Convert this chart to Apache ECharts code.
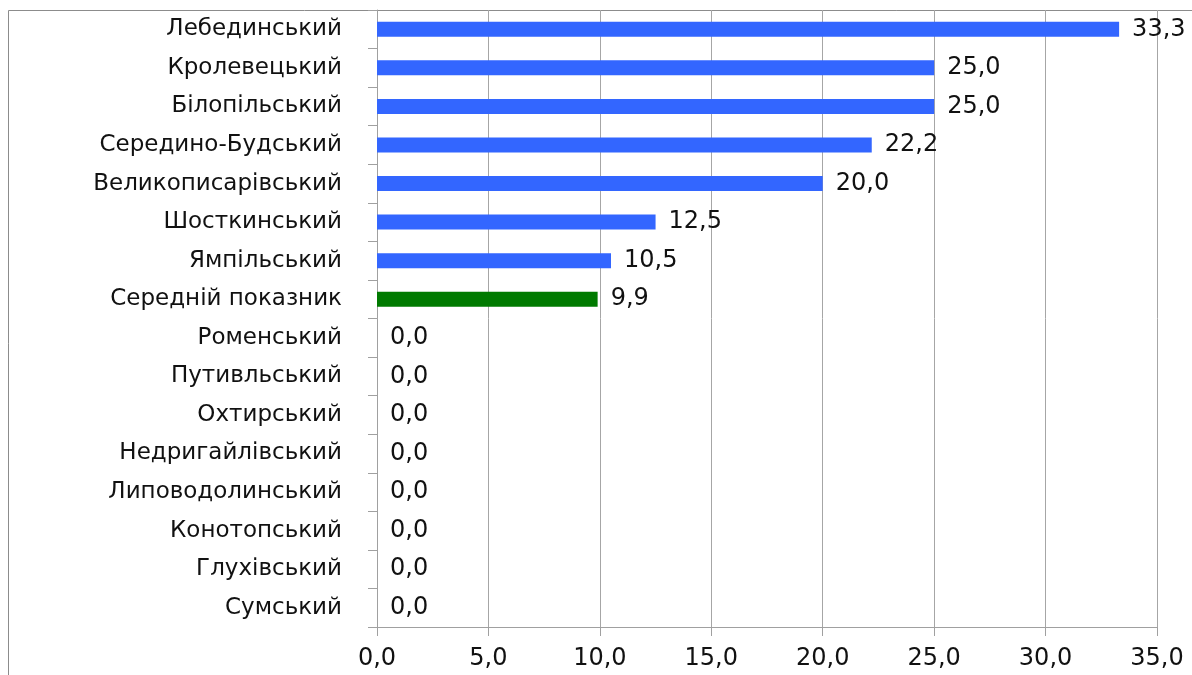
<!DOCTYPE html>
<html>
<head>
<meta charset="utf-8">
<script src="https://cdn.jsdelivr.net/npm/echarts@6/dist/echarts.min.js"></script>
<style>
html,body{margin:0;padding:0;background:#fff;}
#chart{width:1192px;height:675px;}
</style>
</head>
<body>
<div id="chart"></div>
<script>
const categories = ['Лебединський','Кролевецький','Білопільський','Середино-Будський','Великописарівський','Шосткинський','Ямпільський','Середній показник','Роменський','Путивльський','Охтирський','Недригайлівський','Липоводолинський','Конотопський','Глухівський','Сумський'];
const values = [33.3,25.0,25.0,22.2,20.0,12.5,10.5,9.9,0,0,0,0,0,0,0,0];
const averageLabel = 'Середній показник';
const xTicks = {min:0, max:35, interval:5};

const fmt = v => Number(v).toFixed(1).replace('.', ',');
const font = 'DejaVu Sans';

const chart = echarts.init(document.getElementById('chart'));
chart.setOption({
  animation:false,
  backgroundColor:'#fff',
  graphic:[{type:'rect', shape:{x:8.5,y:10.5,width:1300,height:800}, style:{fill:'none',stroke:'#8c8c8c',lineWidth:1}, silent:true, z:-10}],
  grid:{left:377,right:35,top:10,bottom:48,containLabel:false},
  xAxis:{type:'value',min:xTicks.min,max:xTicks.max,interval:xTicks.interval,
    axisLine:{show:true,lineStyle:{color:'#a0a0a0'}},
    axisTick:{show:true,length:9,lineStyle:{color:'#a0a0a0'}},
    splitLine:{show:true,lineStyle:{color:'#a6a6a6',width:1}},
    axisLabel:{formatter:fmt,fontFamily:font,fontSize:24,color:'#111',margin:20}},
  yAxis:{type:'category',data:categories,inverse:true,
    axisLine:{show:true,lineStyle:{color:'#a0a0a0'}},
    axisTick:{show:true,length:9,alignWithLabel:false,lineStyle:{color:'#a0a0a0'}},
    axisLabel:{fontFamily:font,fontSize:23,color:'#111',margin:35}},
  series:[{type:'bar',barWidth:15,
    data:values.map((v,i)=>({value:v,itemStyle:{color:categories[i]===averageLabel?'#007a00':'#3366ff'}})),
    label:{show:true,position:'right',distance:13,formatter:p=>fmt(p.value),fontFamily:font,fontSize:24,color:'#111'}}]
});
</script>
</body>
</html>
